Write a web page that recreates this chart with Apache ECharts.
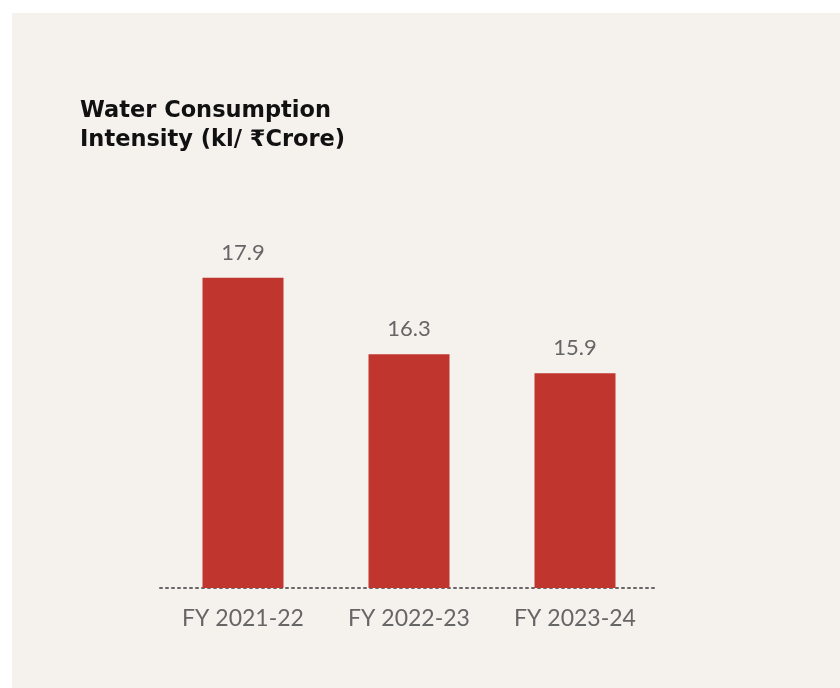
<!DOCTYPE html>
<html>
<head>
<meta charset="utf-8">
<script src="https://cdn.jsdelivr.net/npm/echarts@6/dist/echarts.min.js"></script>
<style>
  html, body { margin: 0; padding: 0; background: #ffffff; }
  #chart { width: 840px; height: 688px; }
</style>
</head>
<body>
<div id="chart"></div>
<script>
const categories = ['FY 2021-22', 'FY 2022-23', 'FY 2023-24']
const intensity = [17.9, 16.3, 15.9]

const chart = echarts.init(document.getElementById('chart'))

chart.setOption({
  animation: false,
  graphic: [{
    type: 'rect',
    z: -10,
    shape: { x: 12, y: 13, width: 828, height: 675 },
    style: { fill: '#f5f2ee' }
  }],
  title: {
    text: 'Water Consumption\nIntensity (kl/ ₹Crore)',
    left: 80,
    top: 97,
    padding: 0,
    textStyle: {
      fontFamily: 'DejaVu Sans',
      fontWeight: 'bold',
      fontSize: 22.5,
      lineHeight: 29,
      color: '#111111'
    }
  },
  grid: { left: 160, right: 182, top: 273, bottom: 100 },
  xAxis: {
    type: 'category',
    data: categories,
    axisTick: { show: false },
    axisLine: { lineStyle: { color: '#666666', type: [2, 4], width: 2 } },
    axisLabel: {
      margin: 19,
      color: '#666666',
      fontFamily: 'Lato',
      fontSize: 23
    }
  },
  yAxis: {
    type: 'value',
    min: 11.4,
    max: 18,
    show: false,
    splitLine: { show: false }
  },
  series: [{
    type: 'bar',
    data: intensity,
    barWidth: 81,
    itemStyle: { color: '#c0352d' },
    label: {
      show: true,
      position: 'top',
      distance: 14,
      color: '#666666',
      fontFamily: 'Lato',
      fontSize: 22
    }
  }]
})
</script>
</body>
</html>
